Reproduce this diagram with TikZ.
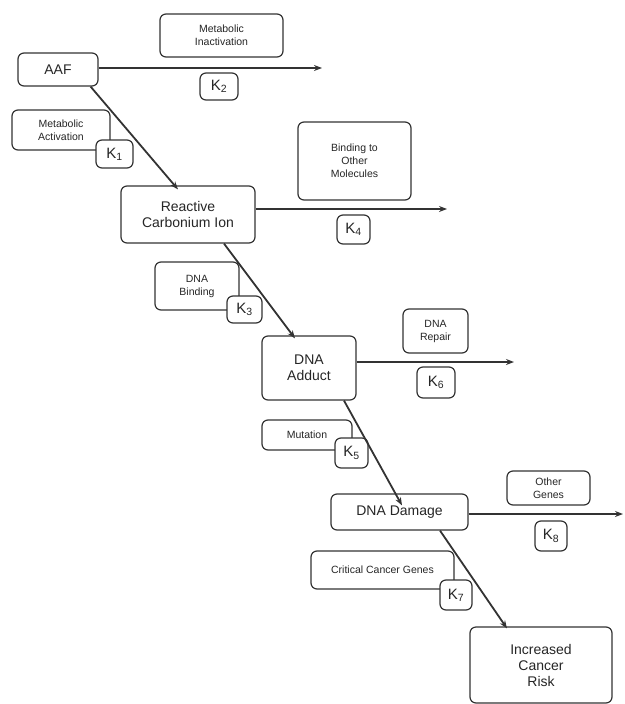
\documentclass[tikz,border=0pt]{standalone}
\usepackage{fontspec}
\setmainfont{Liberation Sans}
\usetikzlibrary{arrows.meta}
\begin{document}
\begin{tikzpicture}[x=1pt,y=-1pt,
  box/.style={draw=black!80, line width=1.2pt, rounded corners=6pt, fill=white, align=center, inner sep=1pt, text=black!85},
  bigt/.style={font=\fontsize{14}{16}\selectfont},
  smt/.style={font=\fontsize{10.5}{13}\selectfont},
  kbox/.style={box, font=\fontsize{15}{16}\selectfont},
  flow/.style={draw=black!80, line width=1.8pt, -{Stealth[length=8pt,width=6pt]}}]
\useasboundingbox (0,0) rectangle (624,704);
% main boxes
\node[box,bigt,minimum width=80pt,minimum height=33pt] (aaf) at (58,69.5) {AAF};
\node[box,bigt,minimum width=134pt,minimum height=57pt] (rci) at (188,214.5) {Reactive\\Carbonium Ion};
\node[box,bigt,minimum width=94pt,minimum height=64pt] (dna) at (309,368) {DNA\\Adduct};
\node[box,bigt,minimum width=137pt,minimum height=36pt] (dd) at (399.5,512) {DNA Damage};
\node[box,bigt,minimum width=142pt,minimum height=76pt] (icr) at (541,665) {Increased\\Cancer\\Risk};
% side labels
\node[box,smt,minimum width=123pt,minimum height=43pt] (mi) at (221.5,35.5) {Metabolic\\Inactivation};
\node[box,smt,minimum width=98pt,minimum height=40pt] (ma) at (61,130) {Metabolic\\Activation};
\node[box,smt,minimum width=113pt,minimum height=78pt] (bom) at (354.5,161) {Binding to\\Other\\Molecules};
\node[box,smt,minimum width=84pt,minimum height=48pt] (db) at (197,286) {DNA\\Binding};
\node[box,smt,minimum width=65pt,minimum height=44pt] (dr) at (435.5,331) {DNA\\Repair};
\node[box,smt,minimum width=90pt,minimum height=30pt] (mut) at (307,435) {Mutation};
\node[box,smt,minimum width=83pt,minimum height=34pt] (og) at (548.5,488) {Other\\Genes};
\node[box,smt,minimum width=143pt,minimum height=38pt] (ccg) at (382.5,570) {Critical Cancer Genes};
% rate constants
\node[kbox,minimum width=37pt,minimum height=28pt] (k1) at (114.5,154) {K\textsubscript{1}};
\node[kbox,minimum width=38pt,minimum height=27pt] (k2) at (219,86.5) {K\textsubscript{2}};
\node[kbox,minimum width=35pt,minimum height=27pt] (k3) at (244.5,309.5) {K\textsubscript{3}};
\node[kbox,minimum width=33pt,minimum height=29pt] (k4) at (353.5,229.5) {K\textsubscript{4}};
\node[kbox,minimum width=33pt,minimum height=30pt] (k5) at (351.5,453) {K\textsubscript{5}};
\node[kbox,minimum width=38pt,minimum height=31pt] (k6) at (436,382.5) {K\textsubscript{6}};
\node[kbox,minimum width=32pt,minimum height=30pt] (k7) at (456,595) {K\textsubscript{7}};
\node[kbox,minimum width=32pt,minimum height=30pt] (k8) at (551,536) {K\textsubscript{8}};
% free ends
\coordinate (e1) at (322,68);
\coordinate (e2) at (447,209);
\coordinate (e3) at (514,362);
\coordinate (e4) at (623,514);
% horizontal arrows
\draw[flow] (aaf.east |- e1) -- (e1);
\draw[flow] (rci.east |- e2) -- (e2);
\draw[flow] (dna.east |- e3) -- (e3);
\draw[flow] (dd.east |- e4) -- (e4);
% diagonal arrows
\draw[flow] ([xshift=-8pt]aaf.south east) -- ([xshift=-10pt,yshift=-4pt]rci.north);
\draw[flow] ([xshift=36pt]rci.south) -- ([xshift=-14pt,yshift=-3pt]dna.north);
\draw[flow] ([xshift=35pt]dna.south) -- ([xshift=2.5pt,yshift=-12pt]dd.north);
\draw[flow] ([xshift=40.5pt]dd.south) -- ([xshift=-34pt,yshift=-2pt]icr.north);
\end{tikzpicture}
\end{document}
